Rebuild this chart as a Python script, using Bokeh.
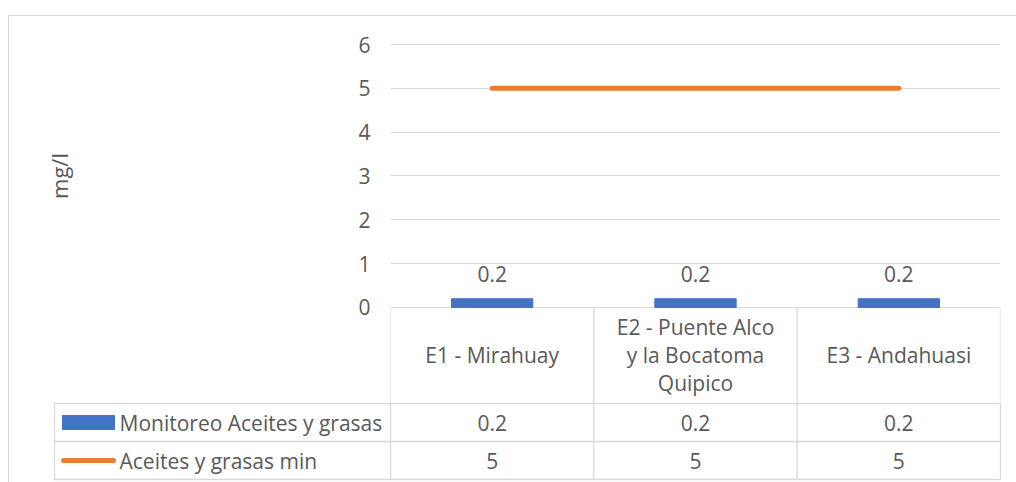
import math
from bokeh.plotting import figure
from bokeh.models import Range1d, FixedTicker, Spacer, Column, Row
from bokeh.core.properties import value
from bokeh.embed import file_html
from bokeh.resources import INLINE

# ---- data ----
categories = ["E1 - Mirahuay", "E2 - Puente Alco y la Bocatoma Quipico", "E3 - Andahuasi"]
category_labels = ["E1 - Mirahuay", "E2 - Puente Alco\ny la Bocatoma\nQuipico", "E3 - Andahuasi"]
monitoreo = [0.2, 0.2, 0.2]
limite_min = [5, 5, 5]
series_names = ["Monitoreo Aceites y grasas", "Aceites y grasas min"]
y_ticks = [0, 1, 2, 3, 4, 5, 6]
y_title = "mg/l"

# ---- style ----
FONT = "Open Sans"
FS = "21px"
TXT = "#595959"
GRID = "#d9d9d9"
BLUE = "#4472c4"
ORANGE = "#ed7d31"
TW = 1.3

n = len(categories)
xs = [i + 0.5 for i in range(n)]
PX = n / 610.0            # category units per pixel (horizontal)
KEY_W = 336 * PX          # width of the legend-key column
UNIT = 43.833             # pixels per mg/l in the chart
HEADER_H = 96             # header row height (px)
ROW_H = 38                # data row height (px)
TITLE_W = 66              # width of the strip holding the y title

y_range = Range1d(-(HEADER_H - 1) / UNIT, max(y_ticks) + 2 / UNIT)

# ---------------- y title strip ----------------
ttl = figure(width=TITLE_W, height=386, output_backend="svg", toolbar_location=None,
             x_range=Range1d(0, TITLE_W), y_range=y_range,
             x_axis_location=None, y_axis_location=None,
             min_border_left=0, min_border_right=0, min_border_top=26, min_border_bottom=0)
ttl.outline_line_color = None
ttl.grid.visible = False
ttl.background_fill_color = "white"
ttl.border_fill_color = "white"
ttl.text(x=[49], y=[(min(y_ticks) + max(y_ticks)) / 2], text=[y_title], angle=math.pi / 2,
         text_align="center", text_baseline="middle",
         text_font=value(FONT), text_font_size="22px", text_color=TXT)

# ---------------- top: chart + header row ----------------
top = figure(width=1007 - TITLE_W, height=386, output_backend="svg", toolbar_location=None,
             x_range=Range1d(0, n), y_range=y_range,
             x_axis_location=None, min_border_left=381 - TITLE_W, min_border_right=16,
             min_border_top=26, min_border_bottom=0)
top.outline_line_color = None
top.background_fill_color = "white"
top.border_fill_color = "white"
top.xgrid.visible = False
top.ygrid.ticker = FixedTicker(ticks=y_ticks)
top.ygrid.grid_line_color = GRID
top.yaxis.ticker = FixedTicker(ticks=y_ticks)
top.yaxis.axis_line_color = None
top.yaxis.major_tick_line_color = None
top.yaxis.minor_tick_line_color = None
top.yaxis.major_tick_out = 0
top.yaxis.major_label_standoff = 20
top.yaxis.major_label_text_font = FONT
top.yaxis.major_label_text_font_size = FS
top.yaxis.major_label_text_color = TXT

# header cell borders
top.segment(x0=list(range(n + 1)), y0=[0] * (n + 1), x1=list(range(n + 1)),
            y1=[-3] * (n + 1), line_color=GRID, line_width=TW)

top.vbar(x=xs, top=monitoreo, width=0.4, color=BLUE)
top.line(x=xs, y=limite_min, line_color=ORANGE, line_width=5, line_cap="round")
top.text(x=xs, y=monitoreo, text=[str(v) for v in monitoreo], y_offset=-25,
         text_align="center", text_baseline="alphabetic",
         text_font=value(FONT), text_font_size=FS, text_color=TXT)

# category header labels (table header row)
top.text(x=xs, y=[-(HEADER_H / 2) / UNIT] * n, text=category_labels, text_align="center",
         text_baseline="middle", text_line_height=1.0,
         text_font=value(FONT), text_font_size=FS, text_color=TXT)

# ---------------- bottom: data rows with legend keys ----------------
BOT_TOP = HEADER_H - 1
BOT_H = 80
bot = figure(width=1007, height=BOT_H, output_backend="svg", toolbar_location=None,
             x_range=Range1d(-KEY_W - PX, n + PX),
             y_range=Range1d(BOT_TOP + BOT_H, BOT_TOP),
             x_axis_location=None, y_axis_location=None,
             min_border_left=44, min_border_right=15, min_border_top=0, min_border_bottom=0)
bot.outline_line_color = None
bot.grid.visible = False
bot.background_fill_color = "white"
bot.border_fill_color = "white"

row_tops = [HEADER_H + k * ROW_H for k in range(len(series_names))]
table_bottom = HEADER_H + len(series_names) * ROW_H

bot.segment(x0=[-KEY_W] * (len(row_tops) + 1), y0=row_tops + [table_bottom],
            x1=[n] * (len(row_tops) + 1), y1=row_tops + [table_bottom],
            line_color=GRID, line_width=TW)
bot.segment(x0=[-KEY_W] + list(range(n + 1)), y0=[0] * (n + 2),
            x1=[-KEY_W] + list(range(n + 1)), y1=[table_bottom] * (n + 2),
            line_color=GRID, line_width=TW)

row_centers = [t + ROW_H / 2 for t in row_tops]
for vals, yc in zip([monitoreo, limite_min], row_centers):
    bot.text(x=xs, y=[yc] * n, text=[f"{v:g}" for v in vals], text_align="center",
             text_baseline="middle", text_font=value(FONT), text_font_size=FS,
             text_color=TXT)

bot.quad(left=[-KEY_W + 8 * PX], right=[-KEY_W + 60 * PX],
         top=[row_centers[0] - 7], bottom=[row_centers[0] + 7], color=BLUE)
bot.segment(x0=[-KEY_W + 9 * PX], y0=[row_centers[1]], x1=[-KEY_W + 59 * PX],
            y1=[row_centers[1]], line_color=ORANGE, line_width=5, line_cap="round")
bot.text(x=[-KEY_W + 65 * PX] * 2, y=row_centers, text=series_names,
         text_align="left", text_baseline="middle",
         text_font=value(FONT), text_font_size=FS, text_color=TXT)

inner = Column(children=[Row(children=[ttl, top], spacing=0), Row(children=[bot])], spacing=0,
               styles={"border-top": "1px solid #d9d9d9", "border-left": "1px solid #d9d9d9"})
p = Column(children=[Spacer(width=1016, height=15),
                     Row(children=[Spacer(width=8, height=10), inner], spacing=0)],
           spacing=0)

open("out.html", "w").write(file_html(p, INLINE))
